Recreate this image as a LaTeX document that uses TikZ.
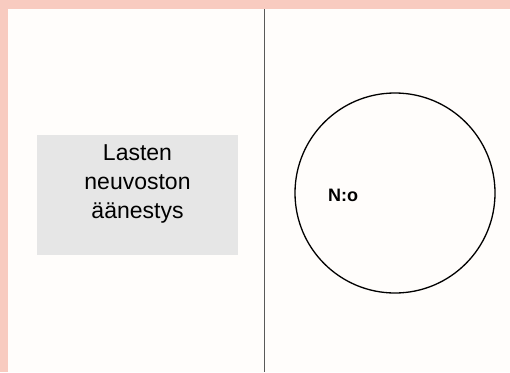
\documentclass[tikz,border=0pt]{standalone}
\usepackage{fontspec}
\setmainfont{Liberation Sans}

\definecolor{frame}{HTML}{F8CBC0}
\definecolor{paper}{HTML}{FFFDFB}
\definecolor{boxgray}{HTML}{E6E6E6}

\begin{document}
\begin{tikzpicture}[x=1pt, y=-1pt]

    % Set the canvas size
    \useasboundingbox (0,0) rectangle (510,372);

    % Define styles
    \tikzset{
        votebox/.style={fill=boxgray, minimum width=201pt, minimum height=120pt},
        votetext/.style={align=center, font=\fontsize{23}{29}\selectfont},
        ring/.style={circle, draw, line width=1.3pt, minimum size=200pt},
        tag/.style={font=\fontsize{18}{18}\selectfont\bfseries},
    }

    % Background and frame
    \fill[frame] (0,0) rectangle (510,372);
    \fill[paper] (8,9) rectangle (510,372);

    % Divider
    \coordinate (top) at (264,9);
    \coordinate (bottom) at (264,372);
    \draw[line width=1pt, black!65] (top) -- (bottom);

    % Left panel
    \node[votebox] (vote) at (137.5,195) {};
    \node[votetext] (votelabel) at (137.5,184) {Lasten\\neuvoston\\äänestys};

    % Right panel
    \node[ring] (count) at (395,193) {};
    \node[tag] (num) at (343,195) {N:o};

\end{tikzpicture}
\end{document}
